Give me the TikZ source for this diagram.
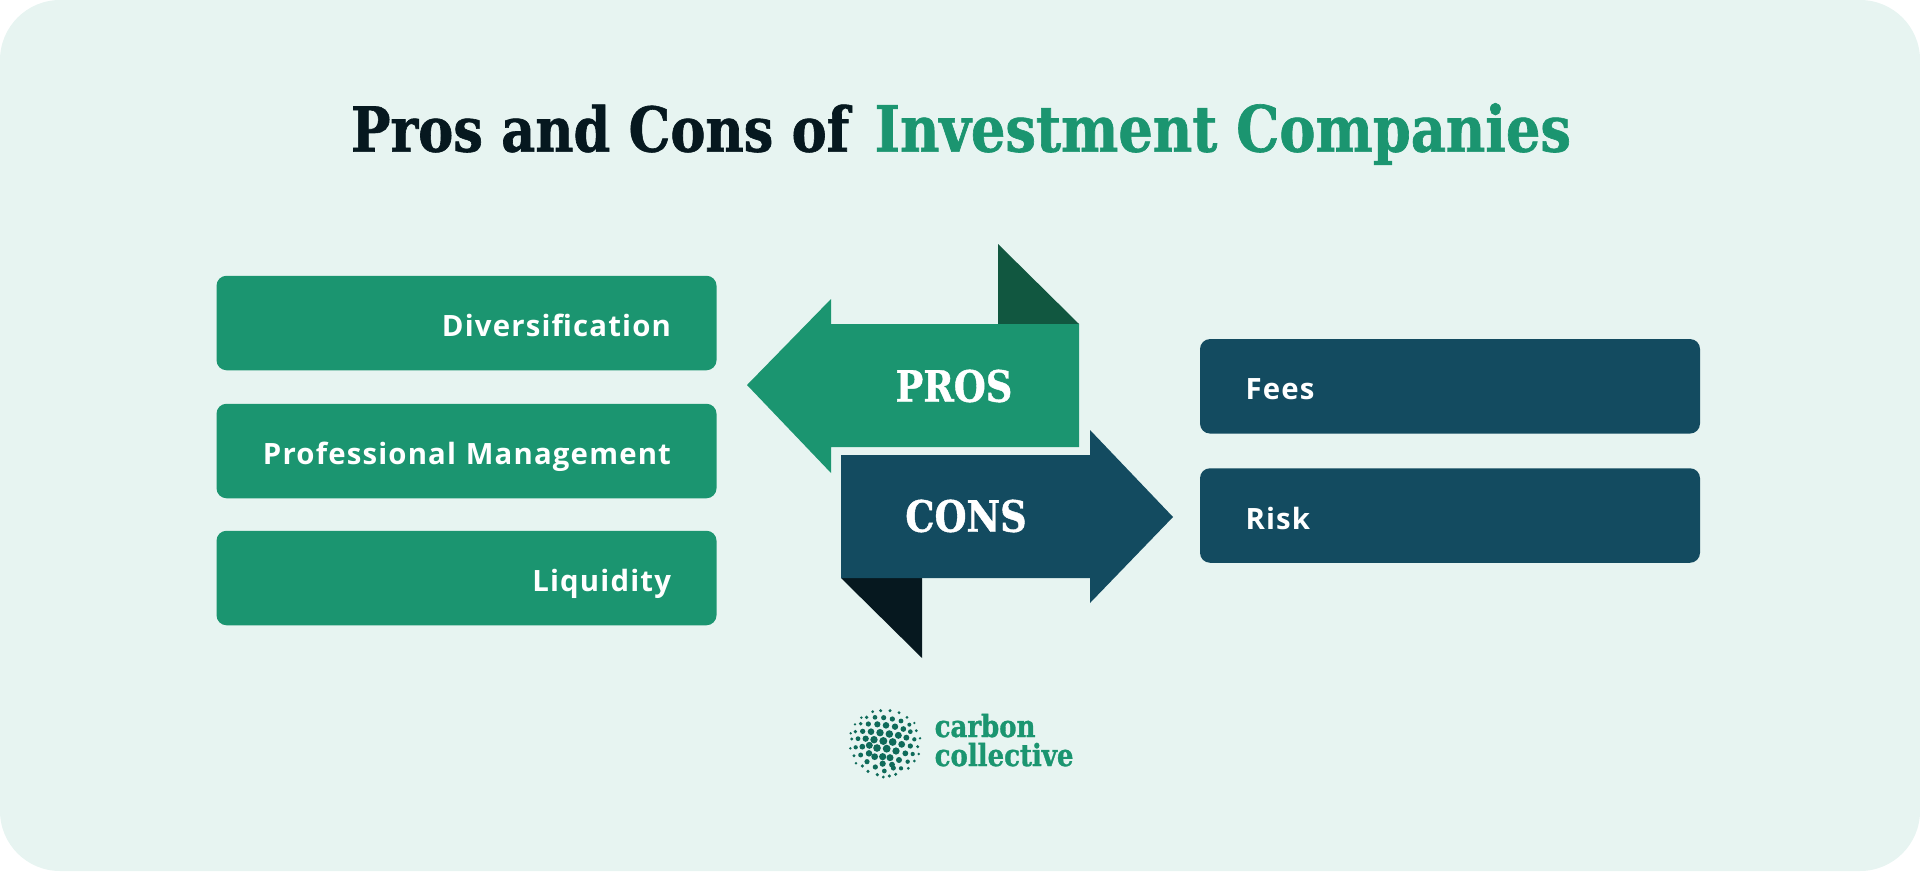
\documentclass[tikz,border=0pt]{standalone}
\usepackage{fontspec}
\setmainfont{Open Sans}
\newfontfamily\labelfont[LetterSpace=4]{Open Sans}
\newfontfamily\headfont[FakeStretch=0.85,FakeBold=1]{DejaVu Serif}
\definecolor{bgpale}{HTML}{E7F4F1}
\definecolor{green}{HTML}{1B9570}
\definecolor{greenfold}{HTML}{115740}
\definecolor{blue}{HTML}{134B60}
\definecolor{ink}{HTML}{06181F}
\definecolor{dotcol}{HTML}{0F6B5A}
\tikzset{
  itembox/.style={rounded corners=0.1cm, minimum width=5cm, text width=4.09cm, minimum height=0.945cm, inner xsep=0.455cm, inner ysep=0, text height=0.28cm, text depth=0.01cm, text=white, font=\labelfont\bfseries\fontsize{8.35}{10}\selectfont},
  arrowtext/.style={text=white, inner sep=0, font=\headfont\bfseries\fontsize{12.3}{14}\selectfont},
  logotext/.style={text=green, inner sep=0, anchor=base west, font=\headfont\bfseries\fontsize{8.7}{10}\selectfont}
}
\begin{document}
\begin{tikzpicture}
\useasboundingbox (0,0) rectangle (19.2,8.71); % bounding box
\fill [bgpale] (0,0) [rounded corners=0.6cm] rectangle (19.2,8.71);

\node (title) at (9.61,7.37) {\headfont\bfseries\fontsize{17.6}{22}\selectfont\textcolor{ink}{Pros and Cons of}\hspace{2pt} \fontsize{18.15}{22}\selectfont\textcolor{green}{Investment Companies}};

% left boxes
\node (diversification) [itembox, fill=green, align=right] at (4.665,5.48) {Diversification};
\node (management) [itembox, fill=green, align=right] at (4.665,4.20) {Professional Management};
\node (liquidity) [itembox, fill=green, align=right] at (4.665,2.93) {Liquidity};

% right boxes
\node (fees) [itembox, fill=blue, align=left] at (14.5,4.847) {Fees};
\node (risk) [itembox, fill=blue, align=left] at (14.5,3.555) {Risk};

% arrows
\fill [greenfold] (9.98,6.27) -- (9.98,5.47) -- (10.79,5.47) -- cycle;
\fill [green] (7.47,4.86) -- (8.31,5.72) -- (8.31,5.47) -- (10.79,5.47) -- (10.79,4.24) -- (8.31,4.24) -- (8.31,3.98) -- cycle;
\fill [ink] (8.41,2.93) -- (9.22,2.93) -- (9.22,2.13) -- cycle;
\fill [blue] (8.41,4.16) -- (10.9,4.16) -- (10.9,4.41) -- (11.73,3.54) -- (10.9,2.68) -- (10.9,2.93) -- (8.41,2.93) -- cycle;
\node (pros) [arrowtext] at (9.54,4.85) {PROS};
\node (cons) [arrowtext] at (9.66,3.55) {CONS};

% logo
\foreach \x/\y in {158/65,182/62,210/62,237/68,
  124/83,140/82,165/82,191/83,217/87,243/93,261/82,
  105/103,122/101,145/102,172/103,198/106,225/110,250/117,268/104,283/99,
  106/125,128/124,153/125,180/128,208/132,235/136,259/143,271/125,289/122,
  92/130,95/147,114/146,137/146,162/149,190/153,218/156,245/163,283/148,300/145,
  91/175,107/172,127/170,148/166,171/174,200/176,228/183,256/190,271/168,293/170,
  102/197,122/195,147/190,164/200,188/200,210/203,237/210,278/192,296/192,
  108/220,127/228,141/215,166/231,188/221,216/224,263/215,283/213,
  144/244,172/254,193/243,220/234,243/235,265/235,
  190/261,208/258,227/253} {
  \pgfmathsetmacro\dot{0.04-0.026*(((\x-195)^2+(\y-160)^2)/11025)}
  \fill [dotcol] ({8.2+\x/300},{1.81-\y/300}) circle (\dot);
}
\node (carbon) [logotext] at (9.34,1.34) {carbon};
\node (collective) [logotext] at (9.34,1.05) {collective};
\end{tikzpicture}
\end{document}
